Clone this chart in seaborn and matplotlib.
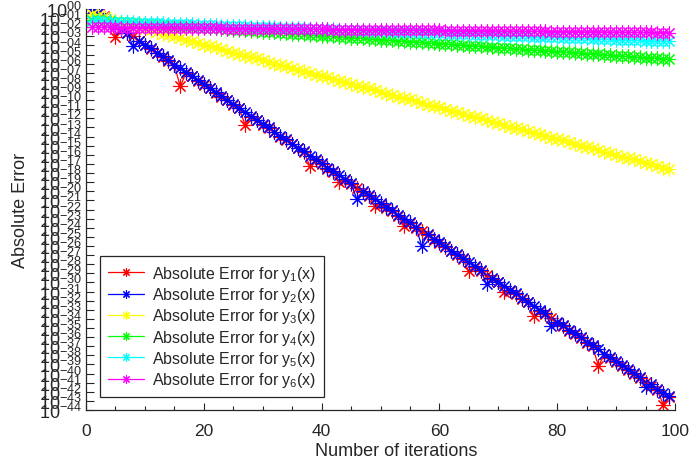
import numpy as np
import pandas as pd
import matplotlib
matplotlib.use('Agg')
import matplotlib.pyplot as plt
import seaborn as sns
from matplotlib.ticker import MultipleLocator, NullLocator

sns.set_theme(style='ticks')
plt.rcParams['font.family'] = ['Liberation Sans', 'DejaVu Sans']
plt.rcParams['mathtext.default'] = 'regular'

iterations = list(range(1, 100))

# -log10(absolute error)
neg_log_y1 = [0.0, 0.4, 0.8, 1.3, 3.1, 2.1, 2.6, 3.0, 3.5, 3.9,
              4.4, 4.8, 5.3, 5.7, 6.1, 8.5, 7.0, 7.4, 7.9, 8.3,
              8.7, 9.2, 9.6, 10.0, 10.5, 10.9, 12.7, 11.8, 12.2, 12.7,
              13.1, 13.5, 14.0, 14.4, 14.8, 15.3, 15.7, 17.2, 16.6, 17.0,
              17.5, 17.9, 19.0, 18.8, 19.2, 19.6, 20.1, 20.5, 21.6, 21.4,
              21.8, 22.2, 22.7, 23.8, 23.5, 24.0, 24.4, 24.8, 25.3, 25.7,
              26.1, 26.6, 27.0, 27.4, 28.8, 28.3, 28.7, 29.2, 29.6, 30.0,
              31.1, 30.9, 31.3, 31.8, 32.2, 33.7, 33.1, 33.5, 33.9, 34.4,
              34.8, 35.3, 35.7, 36.1, 36.6, 37.0, 39.2, 37.9, 38.3, 38.7,
              39.2, 39.6, 40.0, 40.5, 40.9, 41.4, 41.8, 43.4, 42.6]
neg_log_y2 = [0.0, 0.4, 0.9, 1.3, 1.7, 2.2, 2.6, 4.1, 3.5, 3.9,
              4.3, 4.8, 5.2, 5.6, 6.1, 6.5, 6.9, 7.4, 7.8, 8.2,
              8.7, 9.1, 9.5, 10.0, 10.4, 10.9, 11.3, 11.7, 12.2, 12.6,
              13.0, 13.5, 13.9, 14.3, 14.8, 15.2, 15.6, 16.1, 16.5, 16.9,
              17.4, 17.8, 18.2, 18.7, 19.1, 20.9, 20.0, 20.4, 20.8, 21.3,
              21.7, 22.1, 22.6, 23.0, 23.4, 23.9, 26.0, 24.7, 25.2, 25.6,
              26.0, 26.5, 26.9, 27.3, 27.8, 28.2, 28.6, 30.2, 29.5, 29.9,
              30.4, 30.8, 31.2, 31.7, 32.1, 32.6, 33.0, 33.4, 34.8, 34.3,
              34.7, 35.2, 35.6, 36.0, 36.5, 36.9, 37.3, 37.8, 38.2, 38.6,
              39.1, 39.5, 39.9, 40.4, 41.5, 41.2, 41.7, 42.1, 42.5]
neg_log_y3 = [0.6, 0.8, 0.9, 1.1, 1.3, 1.5, 1.6, 1.8, 2.0, 2.2,
              2.3, 2.5, 2.7, 2.9, 3.0, 3.2, 3.4, 3.5, 3.7, 3.9,
              4.1, 4.2, 4.4, 4.6, 4.8, 4.9, 5.1, 5.3, 5.4, 5.6,
              5.8, 6.0, 6.1, 6.3, 6.5, 6.7, 6.8, 7.0, 7.2, 7.3,
              7.5, 7.7, 7.9, 8.0, 8.2, 8.4, 8.6, 8.7, 8.9, 9.1,
              9.3, 9.4, 9.6, 9.8, 9.9, 10.1, 10.3, 10.5, 10.6, 10.8,
              11.0, 11.2, 11.3, 11.5, 11.7, 11.8, 12.0, 12.2, 12.4, 12.5,
              12.7, 12.9, 13.1, 13.2, 13.4, 13.6, 13.7, 13.9, 14.1, 14.3,
              14.4, 14.6, 14.8, 15.0, 15.1, 15.3, 15.5, 15.7, 15.8, 16.0,
              16.2, 16.3, 16.5, 16.7, 16.9, 17.0, 17.2, 17.4, 17.6]
neg_log_y4 = [1.20, 1.24, 1.29, 1.33, 1.38, 1.42, 1.46, 1.51, 1.55, 1.60,
              1.64, 1.68, 1.73, 1.77, 1.82, 1.86, 1.90, 1.95, 1.99, 2.04,
              2.08, 2.12, 2.17, 2.21, 2.26, 2.30, 2.34, 2.39, 2.43, 2.48,
              2.52, 2.56, 2.61, 2.65, 2.70, 2.74, 2.78, 2.83, 2.87, 2.92,
              2.96, 3.00, 3.05, 3.09, 3.14, 3.18, 3.22, 3.27, 3.31, 3.36,
              3.40, 3.44, 3.49, 3.53, 3.58, 3.62, 3.66, 3.71, 3.75, 3.80,
              3.84, 3.88, 3.93, 3.97, 4.02, 4.06, 4.10, 4.15, 4.19, 4.24,
              4.28, 4.32, 4.37, 4.41, 4.46, 4.50, 4.54, 4.59, 4.63, 4.68,
              4.72, 4.76, 4.81, 4.85, 4.90, 4.94, 4.98, 5.03, 5.07, 5.12,
              5.16, 5.20, 5.25, 5.29, 5.34, 5.38, 5.42, 5.47, 5.51]
neg_log_y5 = [1.30, 1.32, 1.35, 1.37, 1.39, 1.42, 1.44, 1.46, 1.48, 1.51,
              1.53, 1.55, 1.58, 1.60, 1.62, 1.65, 1.67, 1.69, 1.71, 1.74,
              1.76, 1.78, 1.81, 1.83, 1.85, 1.88, 1.90, 1.92, 1.94, 1.97,
              1.99, 2.01, 2.04, 2.06, 2.08, 2.11, 2.13, 2.15, 2.17, 2.20,
              2.22, 2.24, 2.27, 2.29, 2.31, 2.34, 2.36, 2.38, 2.40, 2.43,
              2.45, 2.47, 2.50, 2.52, 2.54, 2.57, 2.59, 2.61, 2.63, 2.66,
              2.68, 2.70, 2.73, 2.75, 2.77, 2.80, 2.82, 2.84, 2.86, 2.89,
              2.91, 2.93, 2.96, 2.98, 3.00, 3.03, 3.05, 3.07, 3.09, 3.12,
              3.14, 3.16, 3.19, 3.21, 3.23, 3.26, 3.28, 3.30, 3.32, 3.35,
              3.37, 3.39, 3.42, 3.44, 3.46, 3.49, 3.51, 3.53, 3.55]
neg_log_y6 = [2.00, 2.01, 2.01, 2.02, 2.02, 2.03, 2.04, 2.04, 2.05, 2.05,
              2.06, 2.07, 2.07, 2.08, 2.08, 2.09, 2.10, 2.10, 2.11, 2.11,
              2.12, 2.13, 2.13, 2.14, 2.14, 2.15, 2.16, 2.16, 2.17, 2.17,
              2.18, 2.19, 2.19, 2.20, 2.20, 2.21, 2.22, 2.22, 2.23, 2.23,
              2.24, 2.25, 2.25, 2.26, 2.26, 2.27, 2.28, 2.28, 2.29, 2.29,
              2.30, 2.31, 2.31, 2.32, 2.32, 2.33, 2.34, 2.34, 2.35, 2.35,
              2.36, 2.37, 2.37, 2.38, 2.38, 2.39, 2.40, 2.40, 2.41, 2.41,
              2.42, 2.43, 2.43, 2.44, 2.44, 2.45, 2.46, 2.46, 2.47, 2.47,
              2.48, 2.49, 2.49, 2.50, 2.50, 2.51, 2.52, 2.52, 2.53, 2.53,
              2.54, 2.55, 2.55, 2.56, 2.56, 2.57, 2.58, 2.58, 2.59]

series = [neg_log_y1, neg_log_y2, neg_log_y3, neg_log_y4, neg_log_y5, neg_log_y6]
colors = ['#ff0000', '#0000ff', '#ffff00', '#00ff00', '#00ffff', '#ff00ff']
labels = [f'Absolute Error for $y_{k}$(x)' for k in range(1, 7)]

asterisk = (8, 2, 0)

fig = plt.figure(figsize=(6.9, 4.64), dpi=100)
ax = fig.add_axes([0.1246, 0.1142, 0.8537, 0.8642])

for vals, col, lab in zip(series, colors, labels):
    df = pd.DataFrame({'iter': iterations, 'err': 10.0 ** -np.array(vals)})
    sns.lineplot(data=df, x='iter', y='err', color=col, label=lab,
                 marker=asterisk, markersize=10, markeredgecolor=col,
                 markeredgewidth=0.8, linewidth=0.9, ax=ax)

ax.set_yscale('log')
ax.set_ylim(1e-44, 1)
ax.set_xlim(0, 100)

exps = list(range(0, 45))
ytick_labels = ['$10^{00}$'] + [f'$10^{{-{k:02d}}}$' for k in exps[1:]]
ax.set_yticks([10.0 ** -k for k in exps], ytick_labels)
ax.yaxis.set_minor_locator(NullLocator())
ax.xaxis.set_major_locator(MultipleLocator(20))
ax.xaxis.set_minor_locator(MultipleLocator(5))

ax.tick_params(axis='y', which='major', direction='in', length=6, width=0.8,
               pad=3, labelsize=13, colors='#262626')
ax.tick_params(axis='x', which='major', direction='in', length=5, width=0.8,
               pad=9, labelsize=12.5, colors='#262626')
ax.tick_params(axis='x', which='minor', direction='in', length=3, width=0.8,
               colors='#262626')
for side in ['left', 'bottom']:
    ax.spines[side].set_color('#262626')
    ax.spines[side].set_linewidth(0.9)
sns.despine(ax=ax)

ax.set_xlabel('Number of iterations', fontsize=13, color='#262626')
ax.set_ylabel('Absolute Error', fontsize=13, color='#262626')
ax.xaxis.set_label_coords(0.526, -0.08)
ax.yaxis.set_label_coords(-0.097, 0.5)

leg = ax.legend(loc='lower left', bbox_to_anchor=(0.024, 0.032),
                borderaxespad=0, fontsize=11.5, frameon=True, fancybox=False,
                edgecolor='#262626', framealpha=1, handlelength=2.25,
                handletextpad=0.5, labelspacing=0.14, borderpad=0.5,
                markerscale=0.6)
leg.get_frame().set_linewidth(0.9)

fig.savefig('out.png', dpi=100)
